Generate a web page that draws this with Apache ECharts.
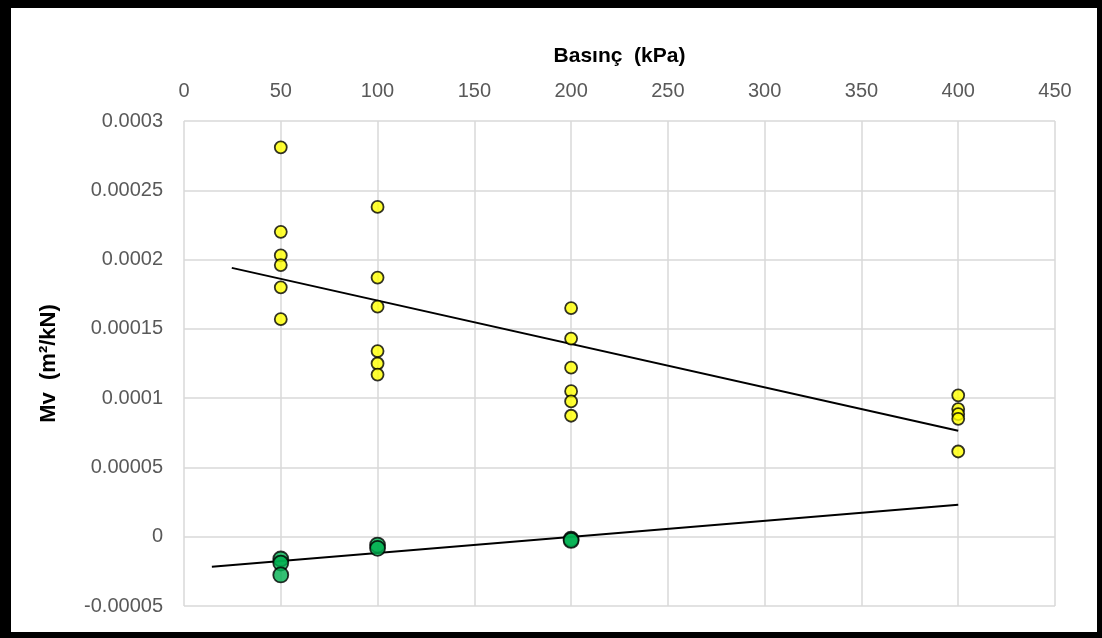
<!DOCTYPE html>
<html>
<head>
<meta charset="utf-8">
<script src="https://cdn.jsdelivr.net/npm/echarts@6/dist/echarts.min.js"></script>
<style>
html,body{margin:0;padding:0;background:#fff;}
#chart{position:absolute;left:0;top:0;width:1102px;height:638px;}
#frame{position:absolute;left:0;top:0;width:1102px;height:638px;box-sizing:border-box;border-style:solid;border-color:#000;border-width:8px 5px 6px 11px;pointer-events:none;}
</style>
</head>
<body>
<div id="chart"></div>
<div id="frame"></div>
<script>
// Tick labels
const xTicks = [0, 50, 100, 150, 200, 250, 300, 350, 400, 450];
const yTicks = [-0.00005, 0, 0.00005, 0.0001, 0.00015, 0.0002, 0.00025, 0.0003];

// Yellow series (Mv, positive)
const yellowX = [50, 50, 50, 50, 50, 50,
                 100, 100, 100, 100, 100, 100,
                 200, 200, 200, 200, 200, 200,
                 400, 400, 400, 400, 400];
const yellowY = [0.000281, 0.000220, 0.000203, 0.000196, 0.000180, 0.000157,
                 0.000238, 0.000187, 0.000166, 0.000134, 0.000125, 0.000117,
                 0.000165, 0.000143, 0.000122, 0.000105, 0.0000976, 0.0000873,
                 0.000102, 0.0000921, 0.0000885, 0.0000851, 0.0000615];

// Green series (negative / near zero)
const greenX = [50, 50, 50, 100, 100, 200, 200];
const greenY = [-0.0000161, -0.0000190, -0.0000276, -0.0000060, -0.0000084, -0.0000017, -0.0000027];

// Trendline endpoints
const yellowTrendX = [24.7, 400];
const yellowTrendY = [0.000194, 0.0000765];
const greenTrendX = [14.4, 400];
const greenTrendY = [-0.0000216, 0.0000231];

const zip = (a, b) => a.map((v, i) => [v, b[i]]);
const fmtY = v => {
  const r = Number(v.toFixed(6));
  return r === 0 ? '0' : String(r);
};

const chart = echarts.init(document.getElementById('chart'));
const labelFont = 'Liberation Sans';
chart.setOption({
  backgroundColor: '#fff',
  animation: false,
  grid: {left: 184, right: 47, top: 121, bottom: 32, containLabel: false},
  xAxis: {
    type: 'value',
    position: 'top',
    min: xTicks[0], max: xTicks[xTicks.length - 1], interval: 50,
    name: 'Basınç  (kPa)',
    nameLocation: 'middle',
    nameGap: 54,
    nameTextStyle: {fontFamily: labelFont, fontWeight: 'bold', fontSize: 21, color: '#000'},
    axisLine: {show: false},
    axisTick: {show: false},
    axisLabel: {fontFamily: labelFont, fontSize: 20, color: '#595959', margin: 20},
    splitLine: {show: true, lineStyle: {color: '#d9d9d9', width: 1.5}}
  },
  yAxis: {
    type: 'value',
    min: yTicks[0], max: yTicks[yTicks.length - 1], interval: 0.00005,
    name: 'Mv  (m²/kN)',
    nameLocation: 'middle',
    nameGap: 124,
    nameRotate: 90,
    nameTextStyle: {fontFamily: labelFont, fontWeight: 'bold', fontSize: 22, color: '#000'},
    axisLine: {show: false},
    axisTick: {show: false},
    axisLabel: {fontFamily: labelFont, fontSize: 20, color: '#595959', margin: 21, formatter: fmtY},
    splitLine: {show: true, lineStyle: {color: '#d9d9d9', width: 1.5}}
  },
  series: [
    {
      type: 'line',
      data: zip(yellowTrendX, yellowTrendY),
      symbol: 'none',
      lineStyle: {color: '#000', width: 2},
      z: 3
    },
    {
      type: 'line',
      data: zip(greenTrendX, greenTrendY),
      symbol: 'none',
      lineStyle: {color: '#000', width: 2},
      z: 3
    },
    {
      type: 'scatter',
      data: zip(yellowX, yellowY),
      symbol: 'circle',
      symbolSize: 12,
      itemStyle: {color: '#FFFF00', borderColor: '#000', borderWidth: 1.8},
      z: 4
    },
    {
      type: 'scatter',
      data: zip(greenX, greenY),
      symbol: 'circle',
      symbolSize: 15,
      itemStyle: {color: '#00B050', borderColor: '#000', borderWidth: 1.8},
      z: 4
    }
  ]
});
</script>
</body>
</html>
